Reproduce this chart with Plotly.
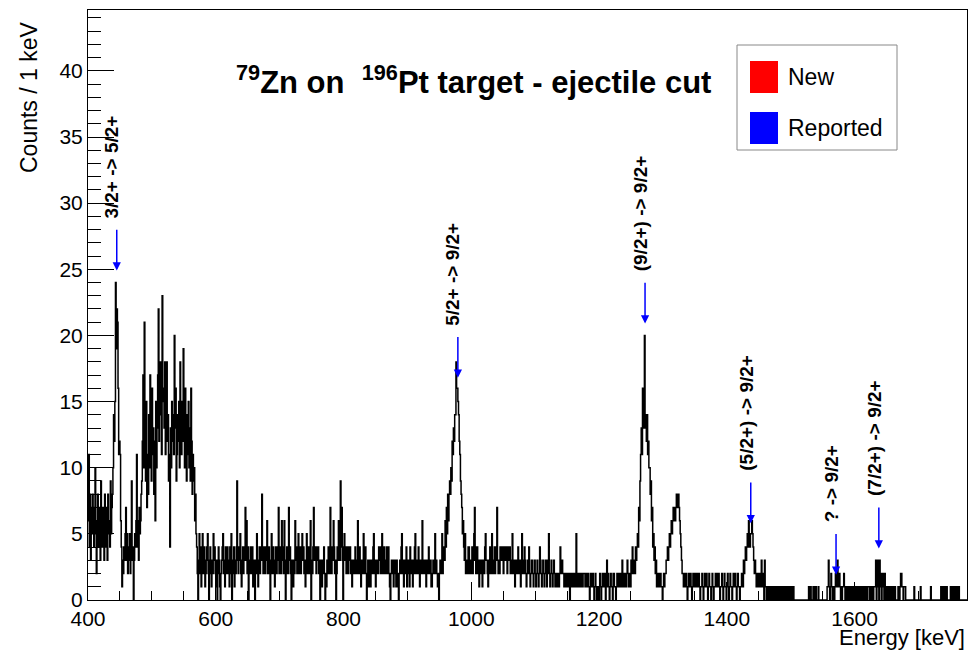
import plotly.graph_objects as go

# ---- spectrum: counts per 1 keV bin, bins start at 400 keV ----
e_start = 400
bin_width = 1

counts_400 = [
    6, 11, 4, 8, 3, 7, 5, 8, 6, 4,
    7, 10, 5, 2, 6, 8, 4, 7, 5, 3,
    9, 6, 4, 7, 5, 3, 8, 6, 4, 7,
    3, 8, 5, 6, 4, 9, 5, 7, 8, 10,
    14, 12, 15, 24, 19, 22, 21, 16, 11, 12,
    11, 6, 4, 1, 3, 2, 4, 3, 5, 7,
    3, 5, 2, 4, 3, 5, 2, 4, 9, 3,
    4, 0, 3, 5, 4, 6, 11, 4, 6, 3,
    7, 5, 6, 8, 9, 12, 17, 10, 21, 13,
    9, 15, 7, 11, 8, 14, 10, 17, 12, 9,
]
counts_500 = [
    16, 11, 13, 8, 12, 6, 15, 10, 13, 17,
    22, 12, 16, 18, 14, 11, 23, 15, 16, 13,
    18, 11, 15, 18, 12, 14, 9, 11, 4, 13,
    10, 15, 12, 14, 11, 20, 13, 16, 9, 11,
    14, 12, 15, 10, 18, 13, 11, 15, 12, 19,
    14, 10, 16, 12, 9, 14, 11, 15, 10, 13,
    9, 16, 12, 8, 11, 9, 10, 6, 8, 5,
    4, 2, 0, 3, 5, 2, 4, 1, 3, 5,
    2, 4, 3, 1, 2, 4, 3, 5, 2, 0,
    3, 4, 2, 1, 3, 2, 5, 3, 4, 2,
]
counts_600 = [
    1, 3, 0, 2, 4, 3, 1, 0, 2, 3,
    4, 5, 2, 3, 1, 4, 2, 3, 4, 2,
    3, 1, 4, 2, 5, 0, 3, 2, 4, 1,
    3, 2, 4, 9, 3, 2, 4, 3, 5, 2,
    1, 3, 4, 2, 3, 4, 7, 3, 6, 2,
    4, 0, 2, 3, 4, 2, 3, 4, 1, 3,
    2, 0, 3, 2, 5, 3, 1, 3, 4, 2,
    3, 4, 8, 3, 2, 4, 3, 2, 4, 3,
    6, 2, 3, 4, 2, 0, 3, 5, 2, 4,
    3, 2, 1, 4, 3, 2, 4, 3, 7, 2,
]
counts_700 = [
    3, 4, 2, 6, 3, 4, 2, 6, 3, 0,
    2, 4, 3, 2, 7, 3, 4, 2, 0, 3,
    2, 1, 3, 2, 6, 3, 4, 2, 3, 5,
    2, 3, 4, 2, 3, 5, 3, 4, 2, 3,
    1, 3, 5, 2, 4, 3, 2, 4, 6, 0,
    3, 2, 4, 7, 3, 4, 3, 2, 4, 3,
    4, 2, 3, 0, 2, 3, 1, 2, 3, 4,
    2, 0, 2, 1, 3, 2, 4, 3, 2, 7,
    3, 2, 4, 3, 6, 4, 2, 3, 0, 2,
    4, 3, 6, 4, 3, 9, 4, 7, 3, 0,
]
counts_800 = [
    4, 5, 3, 4, 2, 4, 3, 2, 4, 3,
    4, 2, 3, 1, 2, 3, 3, 2, 4, 2,
    3, 2, 6, 3, 2, 4, 3, 1, 2, 3,
    2, 5, 3, 2, 4, 2, 0, 2, 3, 1,
    2, 3, 1, 2, 3, 2, 4, 5, 2, 3,
    1, 3, 2, 3, 2, 4, 3, 4, 2, 3,
    5, 2, 3, 4, 2, 3, 2, 4, 3, 2,
    4, 2, 1, 0, 2, 3, 2, 3, 1, 2,
    3, 2, 1, 3, 2, 1, 0, 2, 3, 2,
    4, 5, 2, 3, 1, 2, 3, 2, 4, 1,
]
counts_900 = [
    2, 3, 2, 1, 4, 2, 3, 2, 1, 3,
    2, 4, 5, 2, 3, 3, 2, 4, 3, 1,
    2, 3, 2, 6, 3, 2, 3, 2, 3, 1,
    2, 3, 2, 4, 3, 2, 3, 1, 1, 2,
    3, 2, 3, 5, 2, 3, 2, 1, 2, 0,
    2, 3, 2, 3, 5, 2, 3, 4, 3, 6,
    4, 7, 5, 8, 6, 8, 9, 8, 10, 9,
    12, 11, 13, 12, 14, 14, 18, 16, 16, 15,
    14, 12, 11, 9, 8, 7, 5, 6, 4, 3,
    5, 2, 3, 3, 2, 4, 4, 2, 3, 2,
]
counts_1000 = [
    3, 4, 2, 3, 5, 7, 3, 2, 4, 4,
    2, 3, 1, 2, 3, 2, 3, 1, 2, 3,
    2, 4, 5, 3, 3, 2, 1, 3, 2, 4,
    3, 2, 5, 3, 2, 3, 4, 2, 3, 4,
    7, 3, 2, 3, 2, 4, 4, 3, 4, 4,
    2, 4, 4, 3, 4, 4, 2, 4, 4, 3,
    4, 2, 3, 2, 5, 3, 2, 3, 1, 3,
    2, 3, 2, 4, 2, 3, 2, 1, 3, 5,
    2, 3, 2, 4, 3, 2, 1, 2, 3, 2,
    4, 2, 1, 2, 3, 3, 2, 1, 2, 3,
]
counts_1100 = [
    2, 1, 2, 3, 2, 1, 2, 4, 3, 2,
    1, 2, 3, 2, 1, 2, 3, 2, 1, 3,
    2, 5, 2, 1, 2, 3, 2, 1, 2, 3,
    2, 1, 2, 1, 2, 1, 2, 1, 2, 4,
    2, 3, 3, 2, 2, 1, 2, 2, 1, 2,
    2, 1, 2, 1, 0, 2, 1, 2, 1, 1,
    2, 1, 2, 1, 5, 1, 2, 1, 1, 2,
    2, 1, 2, 2, 1, 2, 2, 2, 1, 2,
    2, 1, 2, 2, 1, 0, 1, 2, 1, 1,
    2, 1, 0, 1, 2, 1, 0, 1, 1, 0,
]
counts_1200 = [
    1, 2, 1, 0, 1, 2, 1, 1, 2, 1,
    0, 2, 3, 1, 2, 1, 0, 1, 2, 1,
    1, 0, 2, 2, 1, 1, 0, 1, 2, 1,
    1, 2, 1, 2, 1, 2, 3, 1, 2, 1,
    1, 2, 1, 2, 3, 2, 1, 2, 2, 1,
    3, 2, 4, 2, 2, 3, 2, 4, 3, 4,
    5, 4, 7, 6, 9, 11, 13, 11, 16, 13,
    15, 20, 13, 14, 12, 14, 11, 12, 10, 10,
    8, 9, 6, 7, 4, 5, 3, 4, 2, 3,
    1, 2, 1, 2, 1, 2, 2, 1, 1, 0,
]
counts_1300 = [
    1, 2, 1, 2, 2, 3, 3, 4, 3, 4,
    5, 4, 5, 6, 5, 6, 7, 6, 7, 6,
    7, 8, 7, 8, 8, 7, 6, 5, 4, 3,
    2, 2, 1, 2, 1, 1, 2, 1, 0, 1,
    2, 1, 1, 2, 1, 0, 1, 2, 1, 1,
    2, 1, 2, 2, 1, 2, 2, 1, 0, 1,
    1, 2, 1, 0, 1, 2, 1, 1, 2, 1,
    0, 1, 2, 1, 1, 0, 1, 2, 1, 0,
    1, 1, 2, 1, 2, 2, 1, 2, 1, 0,
    1, 1, 2, 1, 0, 1, 2, 1, 1, 0,
]
counts_1400 = [
    1, 2, 1, 0, 1, 2, 1, 1, 0, 1,
    2, 1, 2, 2, 1, 0, 1, 2, 1, 1,
    0, 1, 1, 2, 2, 1, 3, 2, 3, 4,
    3, 4, 5, 4, 6, 5, 4, 5, 5, 6,
    5, 4, 3, 2, 3, 2, 1, 2, 1, 2,
    1, 2, 1, 2, 3, 1, 2, 1, 0, 3,
    1, 1, 0, 1, 1, 0, 1, 1, 0, 1,
    0, 1, 1, 0, 1, 0, 0, 1, 1, 0,
    1, 0, 0, 1, 0, 0, 1, 0, 0, 1,
    1, 0, 1, 0, 1, 1, 0, 1, 0, 1,
]
counts_1500 = [
    1, 0, 1, 0, 1, 0, 0, 0, 0, 0,
    0, 0, 0, 0, 0, 0, 0, 0, 0, 0,
    0, 0, 0, 0, 0, 0, 0, 0, 1, 0,
    0, 1, 0, 0, 0, 1, 0, 0, 1, 1,
    0, 0, 0, 1, 0, 0, 0, 0, 0, 0,
    0, 0, 0, 0, 0, 0, 0, 1, 1, 3,
    1, 0, 1, 2, 1, 0, 1, 1, 0, 1,
    2, 1, 2, 3, 1, 2, 2, 1, 0, 1,
    0, 1, 1, 2, 1, 0, 1, 0, 0, 1,
    0, 1, 0, 0, 1, 0, 0, 1, 0, 0,
]
counts_1600 = [
    1, 0, 1, 0, 0, 1, 0, 0, 1, 1,
    0, 1, 1, 0, 1, 1, 0, 1, 1, 0,
    1, 1, 1, 0, 1, 1, 0, 1, 1, 0,
    1, 1, 1, 3, 0, 3, 1, 3, 0, 3,
    1, 2, 0, 2, 1, 2, 0, 2, 1, 0,
    1, 0, 0, 1, 0, 1, 1, 0, 1, 0,
    1, 1, 0, 1, 0, 0, 0, 0, 1, 1,
    0, 1, 2, 2, 1, 1, 0, 1, 1, 1,
    0, 0, 0, 0, 0, 0, 0, 0, 0, 0,
    0, 0, 0, 1, 0, 0, 0, 0, 0, 0,
]
counts_1700 = [
    0, 0, 0, 1, 0, 0, 0, 0, 0, 0,
    0, 0, 0, 0, 0, 0, 0, 0, 0, 1,
    0, 0, 0, 0, 0, 0, 0, 0, 0, 0,
    0, 0, 0, 0, 0, 1, 0, 1, 0, 1,
    0, 1, 1, 0, 1, 0, 0, 0, 0, 0,
    1, 0, 1, 0, 1, 0, 1, 1, 0, 1,
    0, 1, 0, 1, 0, 0, 0, 0, 0, 0,
    0, 0, 0, 0, 0, 0,
]

# ---- marked transitions ----
transition_labels = ["3/2+ -> 5/2+", "5/2+ -> 9/2+", "(9/2+) -> 9/2+",
                     "(5/2+) -> 9/2+", "? -> 9/2+", "(7/2+) -> 9/2+"]
transition_energy = [445, 979, 1272, 1437.5, 1571, 1638]
arrow_tip_counts = [24.9, 16.8, 20.9, 5.8, 1.9, 3.9]
transition_status = ["Reported"] * 6

legend_entries = ["New", "Reported"]
legend_colors = {"New": "#ff0000", "Reported": "#0000ff"}

x_ticks = [400, 600, 800, 1000, 1200, 1400, 1600]
y_ticks = [0, 5, 10, 15, 20, 25, 30, 35, 40]

counts = (counts_400 + counts_500 + counts_600 + counts_700 + counts_800 +
          counts_900 + counts_1000 + counts_1100 + counts_1200 + counts_1300 +
          counts_1400 + counts_1500 + counts_1600 + counts_1700)
edges = [e_start + i * bin_width for i in range(len(counts) + 1)]
x_max = edges[-1]
y_max = 44.6

FONT = "Liberation Sans, Arial, Helvetica, sans-serif"

W, H = 969, 650
ml, mr, mt, mb = 88, 2, 10, 50
pw, ph = W - ml - mr, H - mt - mb


def px_to_paper(px, py):
    """Convert a pixel position of the page into paper coordinates."""
    return (px - ml) / pw, 1 - (py - mt) / ph


fig = go.Figure()
fig.add_trace(go.Scatter(
    x=edges, y=counts + [counts[-1]],
    mode="lines", line=dict(shape="hv", color="black", width=1.5),
    hoverinfo="skip", showlegend=False,
))

annotations = []
arrow_len = 3.2
label_gap = 0.6
for lab, e, tip, st in zip(transition_labels, transition_energy,
                           arrow_tip_counts, transition_status):
    col = legend_colors[st]
    tail = tip + arrow_len
    annotations.append(dict(
        x=e, y=tip, ax=e, ay=tail, xref="x", yref="y", axref="x", ayref="y",
        text="", showarrow=True, arrowhead=2, arrowsize=1.1, arrowwidth=1.5,
        arrowcolor=col,
    ))
    annotations.append(dict(
        x=e, y=tail + label_gap, xref="x", yref="y", text="<b>%s</b>" % lab,
        textangle=-90, showarrow=False, xanchor="center", yanchor="bottom",
        xshift=-5, font=dict(family=FONT, size=19, color="black"),
    ))

# title
tx, ty = px_to_paper(473, 80)
annotations.append(dict(
    x=tx, y=ty, xref="paper", yref="paper", yanchor="middle",
    text="<b><sup>79</sup>Zn on  <sup>196</sup>Pt target - ejectile cut</b>",
    showarrow=False, font=dict(family=FONT, size=31, color="black"),
))

# axis titles placed at the axis ends
ex, ey = px_to_paper(967, 637)
annotations.append(dict(
    x=ex, y=ey, xref="paper", yref="paper", text="Energy [keV]",
    showarrow=False, xanchor="right", yanchor="middle",
    font=dict(family=FONT, size=22, color="black"),
))
cx, cy = px_to_paper(44, 19)
annotations.append(dict(
    x=cx, y=cy, xref="paper", yref="paper", text="Counts / 1 keV",
    textangle=-90, showarrow=False, xanchor="right", yanchor="top",
    font=dict(family=FONT, size=23, color="black"),
))

shapes = []
# legend box
lx0, ly0 = px_to_paper(737, 45)
lx1, ly1 = px_to_paper(897, 150)
shapes.append(dict(type="rect", xref="paper", yref="paper", x0=lx0, y0=ly1,
                   x1=lx1, y1=ly0, line=dict(color="#888888", width=1),
                   fillcolor="white"))
for i, name in enumerate(legend_entries):
    bx0, by0 = px_to_paper(750, 61 + i * 51)
    bx1, by1 = px_to_paper(778, 93 + i * 51)
    shapes.append(dict(type="rect", xref="paper", yref="paper", x0=bx0, y0=by1,
                       x1=bx1, y1=by0, line=dict(width=0),
                       fillcolor=legend_colors[name]))
    tx_, ty_ = px_to_paper(786, 77 + i * 51)
    annotations.append(dict(
        x=tx_, y=ty_, xref="paper", yref="paper", text=name, showarrow=False,
        xanchor="left", yanchor="middle",
        font=dict(family=FONT, size=23, color="black"),
    ))

fig.update_layout(
    width=W, height=H, margin=dict(l=ml, r=mr, t=mt, b=mb),
    paper_bgcolor="white", plot_bgcolor="white",
    annotations=annotations, shapes=shapes, showlegend=False,
    xaxis=dict(
        range=[e_start, x_max], tickvals=x_ticks, ticks="inside", ticklen=18,
        tickcolor="black", tickwidth=1, showline=True, linecolor="black",
        linewidth=1, mirror=True, showgrid=False, zeroline=False,
        tickfont=dict(family=FONT, size=21, color="black"),
        minor=dict(dtick=50, tick0=400, ticks="inside", ticklen=9,
                   tickcolor="black", showgrid=False),
    ),
    yaxis=dict(
        range=[0, y_max], tickvals=y_ticks, ticks="inside", ticklen=26,
        tickcolor="black", tickwidth=1, showline=True, linecolor="black",
        linewidth=1, mirror=True, showgrid=False, zeroline=False,
        tickfont=dict(family=FONT, size=21, color="black"),
        minor=dict(dtick=1, tick0=0, ticks="inside", ticklen=13,
                   tickcolor="black", showgrid=False),
    ),
)

fig.write_html("out.html")
